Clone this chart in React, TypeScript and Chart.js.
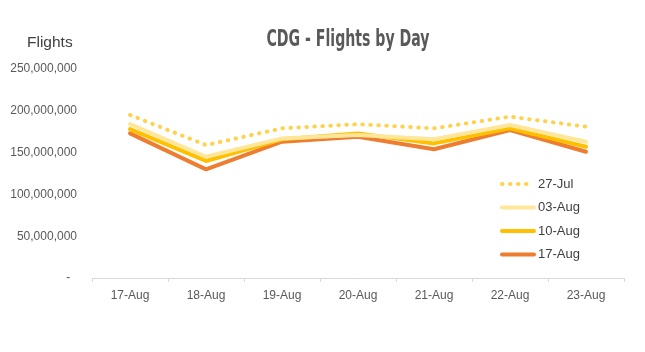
import React, { useEffect, useRef } from "react";
import { Chart, registerables } from "chart.js";

Chart.register(...registerables);

const categories = ["17-Aug", "18-Aug", "19-Aug", "20-Aug", "21-Aug", "22-Aug", "23-Aug"];
const seriesNames = ["27-Jul", "03-Aug", "10-Aug", "17-Aug"];
const jul27 = [195e6, 159e6, 179e6, 184e6, 179e6, 193e6, 181e6];
const aug03 = [184e6, 145e6, 167e6, 171e6, 166e6, 183e6, 163e6];
const aug10 = [178e6, 140e6, 166e6, 173e6, 161e6, 179e6, 157e6];
const aug17 = [173e6, 130e6, 163e6, 169e6, 154e6, 177e6, 151e6];
const yTicks = [0, 50e6, 100e6, 150e6, 200e6, 250e6];
const titleText = "CDG - Flights by Day";
const yTitle = "Flights";

const colors = ["#FFD24D", "#FFE699", "#FFC000", "#ED7D31"];
const FONT = "'Liberation Sans', Arial, sans-serif";

const overlay = {
  id: "overlay",
  afterDraw(chart: any) {
    const ctx = chart.ctx;
    ctx.save();
    // title (condensed look)
    ctx.fillStyle = "#595959";
    ctx.font = "bold 23px 'DejaVu Sans Condensed', 'DejaVu Sans', sans-serif";
    ctx.textAlign = "center";
    ctx.textBaseline = "middle";
    const w = ctx.measureText(titleText).width;
    const sx = 163 / w;
    ctx.save();
    ctx.translate(348, 40);
    ctx.scale(sx, 1);
    ctx.fillText(titleText, 0, 0);
    ctx.restore();
    // y title
    ctx.font = "15.5px " + FONT;
    ctx.fillStyle = "#404040";
    ctx.textAlign = "left";
    ctx.fillText(yTitle, 27, 43);
    // legend
    const x0 = 500;
    const x1 = 536;
    const ys = [184, 207.5, 231, 254.5];
    chart.data.datasets.forEach((ds: any, i: number) => {
      const y = ys[i];
      ctx.strokeStyle = ds.borderColor;
      ctx.lineWidth = ds.borderWidth;
      ctx.lineCap = "round";
      ctx.setLineDash(ds.borderDash || []);
      ctx.beginPath();
      ctx.moveTo(x0 + 2, y);
      ctx.lineTo(x1 - 2, y);
      ctx.stroke();
      ctx.setLineDash([]);
      ctx.fillStyle = "#404040";
      ctx.font = "13px " + FONT;
      ctx.textAlign = "left";
      ctx.textBaseline = "middle";
      ctx.fillText(ds.label, x1 + 2, y);
    });
    ctx.restore();
  },
};

export default function App() {
  const ref = useRef<HTMLCanvasElement>(null);
  useEffect(() => {
    document.body.style.margin = "0";
    const data = [jul27, aug03, aug10, aug17];
    const chart = new Chart(ref.current!, {
      type: "line",
      data: {
        labels: categories,
        datasets: seriesNames.map((name, i) => ({
          label: name,
          data: data[i],
          borderColor: colors[i],
          backgroundColor: colors[i],
          borderWidth: 4,
          borderCapStyle: "round" as const,
          borderJoinStyle: "round" as const,
          borderDash: i === 0 ? [0.5, 7.5] : [],
          pointRadius: 0,
          tension: 0,
          fill: false,
        })),
      },
      options: {
        responsive: false,
        animation: false,
        layout: { padding: { left: 0, right: 21, top: 69, bottom: 0 } },
        plugins: {
          legend: { display: false },
          title: { display: false },
          tooltip: { enabled: false },
        },
        scales: {
          x: {
            offset: true,
            grid: {
              offset: true,
              drawOnChartArea: false,
              drawTicks: true,
              tickLength: 4,
              color: "#D9D9D9",
            },
            border: { display: true, color: "#D9D9D9", width: 1 },
            ticks: {
              color: "#595959",
              font: { family: FONT, size: 12 },
              padding: 6,
              maxRotation: 0,
            },
            afterFit(scale: any) {
              scale.height = 74;
            },
          },
          y: {
            min: 0,
            max: 250e6,
            afterBuildTicks(scale: any) {
              scale.ticks = yTicks.map((v) => ({ value: v }));
            },
            grid: { display: false, drawTicks: false },
            border: { display: false },
            ticks: {
              color: "#595959",
              font: { family: FONT, size: 12 },
              padding: 15,
              callback: (v: any) => (Number(v) === 0 ? "-  " : Number(v).toLocaleString("en-US")),
            },
            afterFit(scale: any) {
              scale.width = 92;
            },
          },
        },
      },
      plugins: [overlay],
    });
    return () => chart.destroy();
  }, []);
  return (
    <div style={{ width: 645, height: 352 }}>
      <canvas ref={ref} width={645} height={352} style={{ display: "block" }} />
    </div>
  );
}
